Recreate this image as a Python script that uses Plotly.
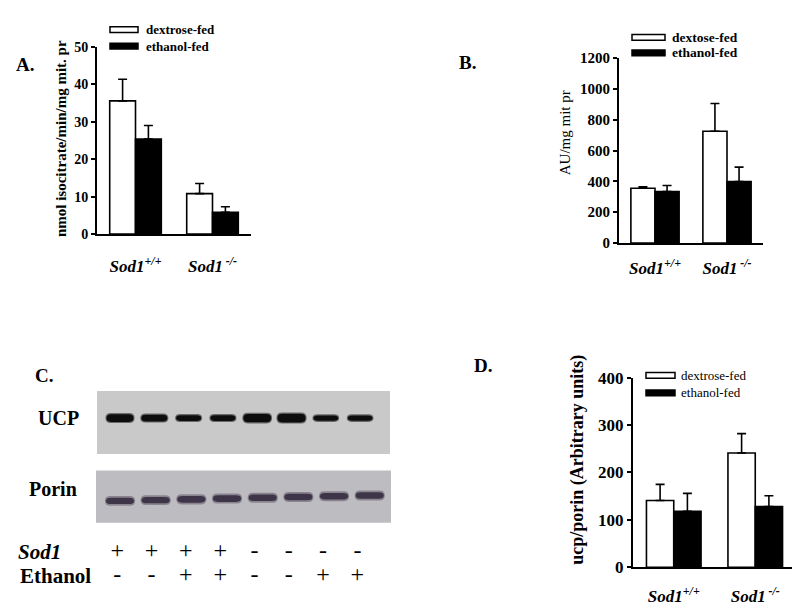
import plotly.graph_objects as go

W, H = 800, 609
SERIF = "Liberation Serif"

# ---------------- data ----------------
genotypes = ["Sod1+/+", "Sod1-/-"]
genotype_ticktext = ["Sod1<sup>+/+</sup>", "Sod1<sup> -/-</sup>"]

# Panel A: isocitrate dehydrogenase activity
a_dextrose = [35.6, 10.8]
a_dextrose_err = [5.8, 2.7]
a_ethanol = [25.4, 5.8]
a_ethanol_err = [3.6, 1.5]

# Panel B: AU/mg mit pr
b_dextrose = [355, 725]
b_dextrose_err = [10, 180]
b_ethanol = [333, 398]
b_ethanol_err = [40, 94]

# Panel D: ucp/porin
d_dextrose = [141, 241]
d_dextrose_err = [34, 41]
d_ethanol = [118, 128]
d_ethanol_err = [38, 23]

# Panel C: western blot
lanes = [1, 2, 3, 4, 5, 6, 7, 8]
sod1_row = ["+", "+", "+", "+", "-", "-", "-", "-"]
ethanol_row = ["-", "-", "+", "+", "-", "-", "+", "+"]
ucp_intensity = [0.85, 0.7, 0.55, 0.55, 0.95, 1.0, 0.5, 0.5]
porin_intensity = [0.75, 0.75, 0.8, 0.8, 0.8, 0.8, 0.75, 0.8]


def px(x):
    return x / W


def py(y):
    return 1 - y / H


fig = go.Figure()


def add_bars(xa, ya, dext, dext_err, eth, eth_err, errw):
    fig.add_trace(go.Bar(
        x=genotypes, y=dext, name="dextrose-fed", xaxis=xa, yaxis=ya,
        marker=dict(color="white", line=dict(color="black", width=1.6)),
        error_y=dict(type="data", array=dext_err, arrayminus=[0] * len(dext),
                     symmetric=False, color="black", thickness=1.6, width=errw),
        textposition="none", showlegend=False))
    fig.add_trace(go.Bar(
        x=genotypes, y=eth, name="ethanol-fed", xaxis=xa, yaxis=ya,
        marker=dict(color="black", line=dict(color="black", width=1.6)),
        error_y=dict(type="data", array=eth_err, arrayminus=[0] * len(eth),
                     symmetric=False, color="black", thickness=1.6, width=errw),
        textposition="none", showlegend=False))


add_bars("x", "y", a_dextrose, a_dextrose_err, a_ethanol, a_ethanol_err, 4.5)
add_bars("x2", "y2", b_dextrose, b_dextrose_err, b_ethanol, b_ethanol_err, 4.5)
add_bars("x3", "y3", d_dextrose, d_dextrose_err, d_ethanol, d_ethanol_err, 4.5)

# blot sign rows as text trace on blot axes
ROW_SOD1_Y, ROW_ETH_Y = 552, 577
fig.add_trace(go.Scatter(
    x=[l - 0.08 for l in lanes] * 2,
    y=[ROW_SOD1_Y] * len(lanes) + [ROW_ETH_Y] * len(lanes),
    text=sod1_row + ethanol_row, mode="text", xaxis="x4", yaxis="y4",
    textfont=dict(family=SERIF, size=24, color="black"),
    showlegend=False, hoverinfo="skip"))


def xaxis_cfg(x0, x1, anchor, standoff):
    return dict(domain=[px(x0), px(x1)], anchor=anchor, type="category",
                range=[-0.5, 1.5], showline=True, linecolor="black", linewidth=2,
                ticks="", showgrid=False, zeroline=False,
                tickvals=genotypes, ticktext=genotype_ticktext,
                ticklabelstandoff=standoff,
                tickfont=dict(family=SERIF, size=17, color="black",
                              weight="bold", style="italic"))


def yaxis_cfg(y0, y1, anchor, rng, dtick, fs):
    return dict(domain=[py(y0), py(y1)], anchor=anchor, range=rng, dtick=dtick,
                showline=True, linecolor="black", linewidth=2, ticks="outside",
                ticklen=4, tickwidth=1.5, tickcolor="black", showgrid=False,
                zeroline=False,
                tickfont=dict(family=SERIF, size=fs, color="black", weight="bold"))


fig.update_layout(
    width=W, height=H, margin=dict(l=0, r=0, t=0, b=0),
    paper_bgcolor="white", plot_bgcolor="white",
    barmode="group", bargap=0.33, bargroupgap=0,
    xaxis=xaxis_cfg(89, 243, "y", 16),
    yaxis=yaxis_cfg(224, 31, "x", [0, 50], 10, 14),
    xaxis2=xaxis_cfg(611, 755, "y2", 9),
    yaxis2=yaxis_cfg(233.3, 42.3, "x2", [0, 1200], 200, 15),
    xaxis3=xaxis_cfg(625, 788, "y3", 12),
    yaxis3=yaxis_cfg(568, 372.3, "x3", [0, 400], 100, 17),
    xaxis4=dict(domain=[px(88), px(383)], anchor="y4", range=[0.30, 8.90],
                visible=False, fixedrange=True),
    yaxis4=dict(domain=[py(600), py(380)], anchor="x4", range=[600, 380],
                visible=False, fixedrange=True),
)

shapes = []
annotations = []


# ---- legends (manual, wide boxes) ----
def legend(x0, x1, y_d, y_e, xt, fs, bold):
    for yc, fill, label in [(y_d[0], "white", y_d[1]), (y_e[0], "black", y_e[1])]:
        shapes.append(dict(type="rect", xref="paper", yref="paper",
                           x0=px(x0), x1=px(x1), y0=py(yc - 3), y1=py(yc + 3),
                           fillcolor=fill, line=dict(color="black", width=1.5)))
        annotations.append(dict(xref="paper", yref="paper", x=px(xt), y=py(yc),
                                xanchor="left", yanchor="middle", showarrow=False,
                                text=label,
                                font=dict(family=SERIF, size=fs, color="black",
                                          weight="bold" if bold else "normal")))


legend(102, 130, (13, "dextrose-fed"), (30, "ethanol-fed"), 136, 13, True)
legend(624, 657, (21, "dextose-fed"), (37, "ethanol-fed"), 662, 13.5, True)
legend(638, 667, (370, "dextrose-fed"), (388, "ethanol-fed"), 671, 13, False)

# ---- blot backgrounds ----
shapes.append(dict(type="rect", xref="paper", yref="paper", layer="below",
                   x0=px(89), x1=px(382), y0=py(451), y1=py(386),
                   fillcolor="#c9c9c9", line=dict(width=0)))
shapes.append(dict(type="rect", xref="paper", yref="paper", layer="below",
                   x0=px(88), x1=px(383), y0=py(522), y1=py(468),
                   fillcolor="#bdbcc1", line=dict(width=0)))


def pill(xc, yc, half_len, half_h):
    x0, x1 = xc - half_len, xc + half_len
    y0, y1 = yc + half_h, yc - half_h
    rx = half_len * 0.35
    return (f"M {x0},{yc} Q {x0},{y1} {x0 + rx},{y1} L {x1 - rx},{y1} "
            f"Q {x1},{y1} {x1},{yc} Q {x1},{y0} {x1 - rx},{y0} "
            f"L {x0 + rx},{y0} Q {x0},{y0} {x0},{yc} Z")


UCP_Y = 414
for lane, inten in zip(lanes, ucp_intensity):
    half_len = (0.62 + 0.2 * inten) / 2
    half_h = (2 + 7 * inten) / 2
    shapes.append(dict(type="path", xref="x4", yref="y4",
                       path=pill(lane, UCP_Y, half_len + 0.03, half_h + 1.2),
                       fillcolor="#6a6a6a", line=dict(width=0)))
    shapes.append(dict(type="path", xref="x4", yref="y4",
                       path=pill(lane, UCP_Y, half_len, half_h),
                       fillcolor="#0d0d0d", line=dict(width=0)))

for lane, inten in zip(lanes, porin_intensity):
    xc = lane + (lane - 1) * 0.04
    yc = 499.5 - 0.8 * (lane - 1)
    half_len = 0.41
    half_h = (2 + 6 * inten) / 2
    shapes.append(dict(type="path", xref="x4", yref="y4",
                       path=pill(xc, yc, half_len + 0.03, half_h + 1.8),
                       fillcolor="#8a8490", line=dict(width=0)))
    shapes.append(dict(type="path", xref="x4", yref="y4",
                       path=pill(xc, yc, half_len, half_h),
                       fillcolor="#3e3648", line=dict(width=0)))


def text(x, y, s, size, bold=True, italic=False, anchor="center", angle=0):
    annotations.append(dict(xref="paper", yref="paper", x=px(x), y=py(y),
                            xanchor=anchor, yanchor="middle", showarrow=False,
                            text=s, textangle=angle,
                            font=dict(family=SERIF, size=size, color="black",
                                      weight="bold" if bold else "normal",
                                      style="italic" if italic else "normal")))


# panel letters
text(17, 49, "A.", 19)
text(460, 47, "B.", 19)
text(35.5, 370, "C.", 19)
text(475, 360, "D.", 19)

# y titles
text(53, 126, "nmol isocitrate/min/mg mit. pr", 15, angle=-90)
text(557, 120, "AU/mg mit pr", 15, bold=False, angle=-90)
text(570, 457, "ucp/porin (Arbitrary units)", 18, angle=-90)

# blot labels
text(28, 414, "UCP", 20, anchor="left")
text(19, 487, "Porin", 20, anchor="left")
text(8, ROW_SOD1_Y, "Sod1", 21, italic=True, anchor="left")
text(10, ROW_ETH_Y, "Ethanol", 21, anchor="left")

fig.update_layout(shapes=shapes, annotations=annotations)

fig.write_html("out.html")
